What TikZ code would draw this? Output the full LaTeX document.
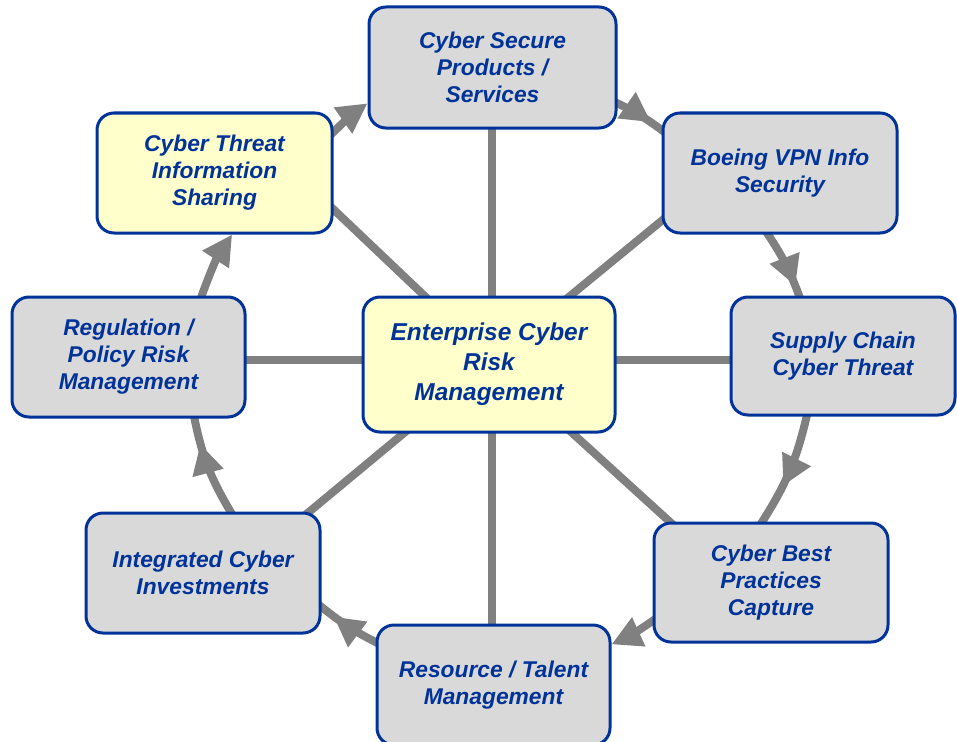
\documentclass[tikz,border=0pt]{standalone}
\usepackage{fontspec}
\setmainfont{Liberation Sans}
\usetikzlibrary{arrows.meta,backgrounds,decorations.markings}
\definecolor{boxblue}{RGB}{0,51,153}
\definecolor{boxgray}{RGB}{217,217,217}
\definecolor{boxyellow}{RGB}{255,255,204}
\definecolor{linkgray}{RGB}{128,128,128}
\begin{document}
\begin{tikzpicture}[x=1pt,y=-1pt,
  box/.style={draw=boxblue, line width=3pt, rounded corners=17pt, fill=boxgray,
    text=boxblue, align=center, inner sep=0pt,
    font=\fontsize{22.8}{27}\selectfont\bfseries\itshape},
  hot/.style={box, fill=boxyellow},
  spoke/.style={draw=linkgray, line width=8pt, shorten >=-12pt},
  cycleflow/.style={draw=linkgray, line width=8pt, shorten <=-6pt,
    -{Triangle[length=30pt,width=30pt]}},
  cyclemid/.style={draw=linkgray, line width=8pt, shorten <=-6pt, shorten >=-6pt,
    postaction={decorate},
    decoration={markings, mark=at position #1 with
      {\arrow{Triangle[length=30pt,width=30pt]}}}}
]
\useasboundingbox (0,0) rectangle (957,741);

% outer ring of topics
\node[box, minimum width=247pt, minimum height=121pt] (csp) at (492.5,67.5)
  {Cyber Secure\\Products /\\Services};
\node[box, minimum width=234pt, minimum height=120pt] (vpn) at (780,173)
  {Boeing VPN Info\\Security};
\node[box, minimum width=224pt, minimum height=118pt] (scc) at (843,356)
  {Supply Chain\\Cyber Threat};
\node[box, minimum width=234pt, minimum height=119pt] (cbp) at (771,582.5)
  {Cyber Best\\Practices\\Capture};
\node[box, minimum width=233pt, minimum height=120pt] (rtm) at (493.5,685)
  {Resource / Talent\\Management};
\node[box, minimum width=234pt, minimum height=120pt] (ici) at (203,573)
  {Integrated Cyber\\Investments};
\node[box, minimum width=233pt, minimum height=120pt] (rpr) at (128.5,357)
  {Regulation /\\Policy Risk\\Management};
\node[hot, minimum width=235pt, minimum height=120pt] (cti) at (214.5,173)
  {Cyber Threat\\Information\\Sharing};

% hub
\node[hot, minimum width=252pt, minimum height=135pt,
  font=\fontsize{24.4}{30}\selectfont\bfseries\itshape] (ecr) at (489,364.5)
  {Enterprise Cyber\\Risk\\Management};
\coordinate (hub) at (492,360);

\begin{scope}[on background layer]
  % spokes from the hub
  \draw[spoke] (hub) -- (hub |- csp.center);
  \draw[spoke] (hub) -- (vpn.202);
  \draw[spoke] (hub) -- (hub -| scc.center);
  \draw[spoke] (hub) -- (cbp.149);
  \draw[spoke] (hub) -- (hub |- rtm.center);
  \draw[spoke] (hub) -- (ici.30);
  \draw[spoke] (hub) -- (hub -| rpr.center);
  \draw[spoke] (hub) -- (cti.-17);

  % clockwise cycle
  \draw[cycleflow] (rpr.40) to[bend left=7] (cti.-74);
  \draw[cycleflow] (cti.19) to[bend left=5] (csp.196);
  \draw[cyclemid=0.75] (csp.-16) to[bend left=6] (vpn.160);
  \draw[cyclemid=0.85] (vpn.-101) to[bend left=7] (scc.126);
  \draw[cyclemid=0.64] (scc.-121) to[bend left=10] (cbp.98);
  \draw[cycleflow] (cbp.198) to[bend left=5] (rtm.19);
  \draw[cyclemid=0.76] (rtm.160) to[bend left=6] (ici.-16);
  \draw[cyclemid=0.74] (ici.66) to[bend left=10] (rpr.-43);
\end{scope}
\end{tikzpicture}
\end{document}
